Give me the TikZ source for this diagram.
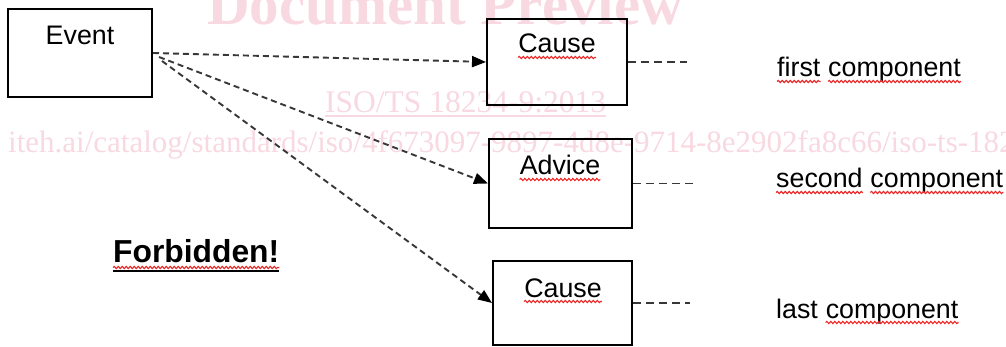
\documentclass[tikz,border=0pt]{standalone}
\usepackage{fontspec}
\setmainfont{Liberation Sans}
\newfontfamily\wmfont{Liberation Serif}
\usetikzlibrary{arrows.meta,decorations.pathmorphing}

\definecolor{wmpink}{RGB}{248,216,225}
\definecolor{dashgray}{RGB}{55,55,55}
\definecolor{spellred}{RGB}{236,40,40}

\tikzset{
  box/.style={draw=black, line width=2pt, inner sep=0pt, fill=none},
  txt/.style={inner sep=0pt, text=black, font=\fontsize{26.8}{32}\selectfont},
  wm/.style={inner sep=0pt, text=wmpink},
  dasharrow/.style={draw=dashgray, line width=1.9pt, dash pattern=on 6pt off 4pt,
    -{Triangle[length=14pt,width=11pt,color=black]}},
  stub/.style={draw=dashgray, line width=1.9pt, dash pattern=on 8pt off 5pt},
  squiggle/.style={draw=spellred, line width=1.1pt,
    decorate, decoration={snake, amplitude=1.1pt, segment length=4pt}}
}

\newcommand{\spellmark}[1]{%
  \draw[squiggle] ([yshift=-4.5pt]#1.base west) -- ([yshift=-4.5pt]#1.base east);}

\begin{document}
\begin{tikzpicture}[x=1pt,y=-1pt]
\useasboundingbox (0,0) rectangle (1006,347);
\clip (0,0) rectangle (1006,347);

% preview watermark behind the diagram
\node[wm, font=\wmfont\bfseries\fontsize{59}{62}\selectfont, anchor=base west]
  (wmtitle) at (207,25) {Document Preview};
\node[wm, font=\wmfont\fontsize{31.5}{34}\selectfont, anchor=base west]
  (wmiso) at (325,113) {ISO/TS 18234-9:2013};
\draw[wmpink, line width=1.4pt] ([yshift=-3pt]wmiso.base west) -- ([yshift=-3pt]wmiso.base east);
\node[wm, font=\wmfont\fontsize{31}{34}\selectfont, anchor=base west]
  (wmurl) at (8,153) {iteh.ai/catalog/standards/iso/4f673097-9897-4d8e-9714-8e2902fa8c66/iso-ts-18234-9-2013};

% boxes
\node[box, minimum width=144pt, minimum height=88pt] (event)  at (80,53)    {};
\node[box, minimum width=140pt, minimum height=86pt] (cause1) at (557,62)   {};
\node[box, minimum width=143pt, minimum height=89pt] (advice) at (560.5,183.5) {};
\node[box, minimum width=139pt, minimum height=84pt] (cause3) at (562.5,303) {};

% box captions
\node[txt, anchor=base] (eventtext)  at (80,45)  {Event};
\node[txt, anchor=base] (cause1text) at (557,53) {Cause};
\node[txt, anchor=base] (advicetext) at (560,175) {Advice};
\node[txt, anchor=base] (cause3text) at (563,297) {Cause};
\spellmark{cause1text}
\spellmark{advicetext}
\spellmark{cause3text}

% links from the event
\draw[dasharrow] (event.east) -- (cause1.west);
\draw[dasharrow] ([shift={(6pt,-4pt)}]event.east) -- (advice.west);
\draw[dasharrow] ([shift={(9pt,-8pt)}]event.east) -- (cause3.west);

% open ends
\coordinate (c1end) at (687,62);
\coordinate (adend) at (693,183.5);
\coordinate (c3end) at (690,303);
\draw[stub] (cause1.east) -- (c1end);
\draw[stub] (advice.east) -- (adend);
\draw[stub] (cause3.east) -- (c3end);

% component labels
\node[txt, anchor=base west] (firstw)  at (777,77) {first};
\node[txt, anchor=base west] (firstc)  at ([xshift=7.45pt]firstw.base east) {component};
\node[txt, anchor=base west] (secondw) at (776,188) {second};
\node[txt, anchor=base west] (secondc) at ([xshift=7.45pt]secondw.base east) {component};
\node[txt, anchor=base west] (lastw)   at (776,318) {last};
\node[txt, anchor=base west] (lastc)   at ([xshift=7.45pt]lastw.base east) {component};
\spellmark{firstw}
\spellmark{firstc}
\spellmark{secondw}
\spellmark{secondc}
\spellmark{lastc}

% warning
\node[txt, font=\bfseries\fontsize{31.8}{36}\selectfont, anchor=base west]
  (forbid) at (113,263) {Forbidden!};
\draw[squiggle] ([yshift=-4.5pt]forbid.base west) -- ([yshift=-4.5pt]forbid.base east);
\draw[black, line width=2.2pt] ([yshift=-8pt]forbid.base west) -- ([yshift=-8pt]forbid.base east);
\end{tikzpicture}
\end{document}
